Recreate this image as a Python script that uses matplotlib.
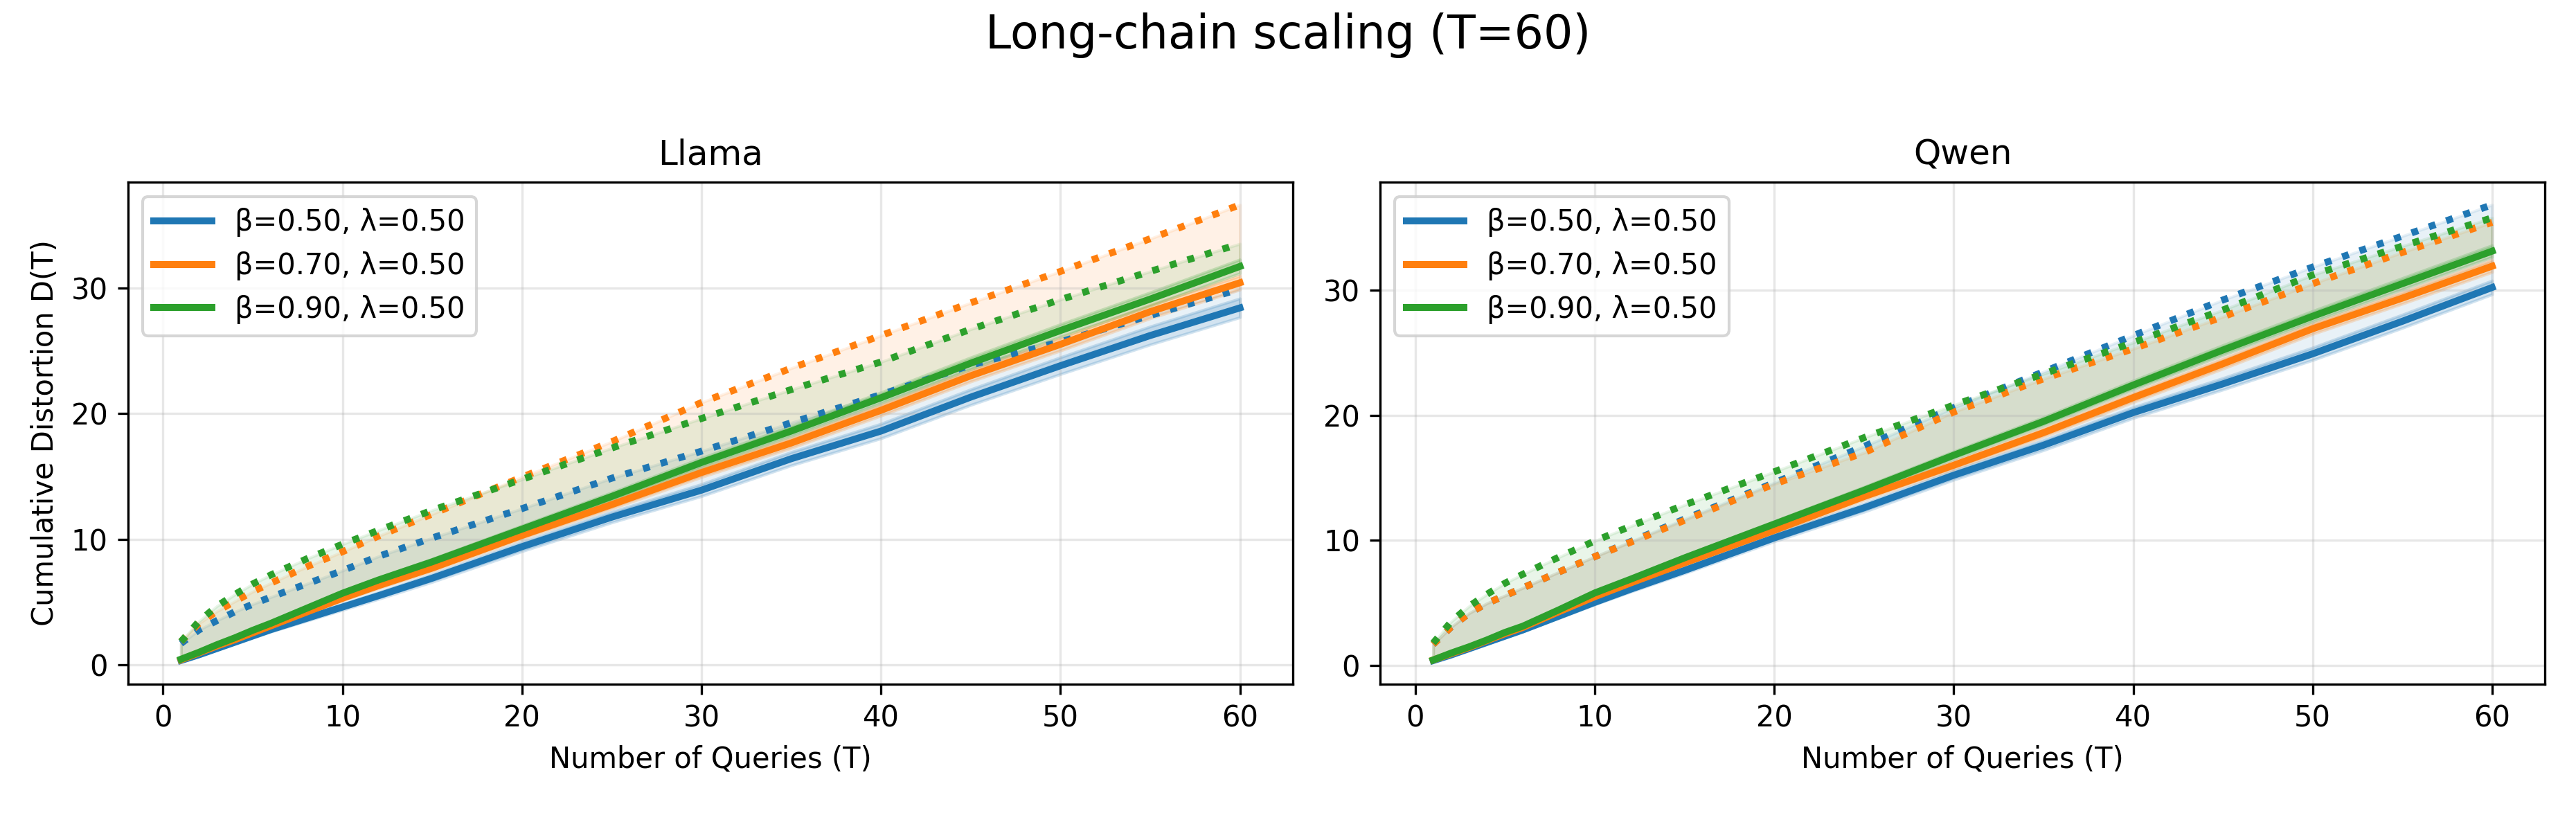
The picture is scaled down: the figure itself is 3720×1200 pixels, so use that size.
import matplotlib
matplotlib.use("Agg")
import matplotlib.pyplot as plt
from matplotlib.ticker import MultipleLocator
import numpy as np

T = [1, 2, 3, 4, 5, 6, 8, 10, 12, 15, 20, 25, 30, 35, 40, 45, 50, 55, 60]

LABELS = ["β=0.50, λ=0.50", "β=0.70, λ=0.50", "β=0.90, λ=0.50"]
COLORS = ["tab:blue", "tab:orange", "tab:green"]

# Llama: mean cumulative distortion (solid), its std, and the bound (dotted)
llama_b50 = [0.35, 0.8, 1.3, 1.8, 2.3, 2.8, 3.7, 4.6, 5.5, 6.9, 9.4, 11.75, 13.9, 16.4, 18.6, 21.3, 23.8, 26.2, 28.4]
llama_b70 = [0.4, 0.95, 1.5, 2.0, 2.55, 3.1, 4.2, 5.3, 6.3, 7.7, 10.3, 12.75, 15.3, 17.65, 20.25, 23.0, 25.5, 28.1, 30.4]
llama_b90 = [0.45, 1.0, 1.6, 2.15, 2.75, 3.3, 4.5, 5.7, 6.75, 8.2, 10.8, 13.4, 16.1, 18.6, 21.25, 24.0, 26.6, 29.1, 31.7]
llama_b50_std = [0.05, 0.08, 0.1, 0.12, 0.14, 0.16, 0.2, 0.23, 0.26, 0.3, 0.36, 0.42, 0.48, 0.53, 0.58, 0.62, 0.67, 0.72, 0.75]
llama_b70_std = [0.04, 0.06, 0.08, 0.1, 0.11, 0.12, 0.15, 0.17, 0.2, 0.23, 0.28, 0.32, 0.36, 0.4, 0.43, 0.46, 0.5, 0.53, 0.55]
llama_b90_std = [0.04, 0.06, 0.08, 0.1, 0.11, 0.12, 0.15, 0.17, 0.2, 0.23, 0.28, 0.32, 0.36, 0.4, 0.43, 0.46, 0.5, 0.53, 0.55]
llama_b50_bound = [1.7, 2.78, 3.52, 4.22, 4.83, 5.39, 6.44, 7.5, 8.63, 10.1, 12.43, 14.85, 17.0, 19.26, 21.5, 23.85, 25.7, 27.8, 29.9]
llama_b70_bound = [1.85, 3.3, 4.26, 5.05, 5.83, 6.5, 7.8, 9.0, 10.24, 12.0, 14.94, 17.75, 20.87, 23.6, 26.2, 28.8, 31.3, 33.9, 36.6]
llama_b90_bound = [1.85, 3.46, 4.67, 5.6, 6.44, 7.15, 8.43, 9.6, 10.7, 12.3, 14.76, 17.25, 19.6, 21.9, 24.1, 26.7, 29.06, 31.3, 33.5]

# Qwen
qwen_b50 = [0.4, 0.85, 1.35, 1.85, 2.35, 2.85, 3.95, 5.05, 6.1, 7.6, 10.2, 12.6, 15.2, 17.6, 20.2, 22.5, 24.9, 27.5, 30.2]
qwen_b70 = [0.45, 0.95, 1.45, 2.0, 2.55, 3.05, 4.3, 5.5, 6.6, 8.2, 10.8, 13.5, 16.0, 18.6, 21.4, 24.1, 26.9, 29.35, 31.9]
qwen_b90 = [0.45, 1.0, 1.5, 2.05, 2.65, 3.15, 4.45, 5.8, 6.9, 8.6, 11.3, 14.0, 16.8, 19.5, 22.4, 25.2, 27.9, 30.5, 33.1]
qwen_b50_std = [0.04, 0.06, 0.08, 0.1, 0.11, 0.12, 0.15, 0.17, 0.2, 0.23, 0.28, 0.32, 0.36, 0.4, 0.43, 0.46, 0.5, 0.53, 0.55]
qwen_b70_std = [0.03, 0.05, 0.07, 0.08, 0.09, 0.1, 0.12, 0.14, 0.16, 0.19, 0.23, 0.27, 0.3, 0.33, 0.36, 0.39, 0.42, 0.45, 0.47]
qwen_b90_std = [0.03, 0.05, 0.07, 0.08, 0.09, 0.1, 0.12, 0.14, 0.16, 0.19, 0.23, 0.27, 0.3, 0.33, 0.36, 0.39, 0.42, 0.45, 0.47]
qwen_b50_bound = [1.7, 3.08, 4.18, 4.98, 5.59, 6.21, 7.47, 8.7, 9.9, 11.7, 14.6, 17.5, 20.6, 23.46, 26.35, 29.2, 31.83, 34.3, 36.8]
qwen_b70_bound = [1.7, 3.08, 4.18, 4.98, 5.59, 6.21, 7.47, 8.7, 9.85, 11.6, 14.5, 17.0, 20.25, 22.9, 25.3, 27.86, 30.5, 33.0, 35.4]
qwen_b90_bound = [1.8, 3.5, 4.74, 5.7, 6.58, 7.3, 8.66, 9.95, 11.13, 12.83, 15.48, 18.2, 20.8, 23.3, 25.8, 28.4, 31.2, 33.5, 35.76]

PANELS = [
    ("Llama",
     [llama_b50, llama_b70, llama_b90],
     [llama_b50_std, llama_b70_std, llama_b90_std],
     [llama_b50_bound, llama_b70_bound, llama_b90_bound]),
    ("Qwen",
     [qwen_b50, qwen_b70, qwen_b90],
     [qwen_b50_std, qwen_b70_std, qwen_b90_std],
     [qwen_b50_bound, qwen_b70_bound, qwen_b90_bound]),
]


def main() -> int:
    fig = plt.figure(figsize=(12.4, 4.0), dpi=300)
    axes = [fig.add_axes([0.0497, 0.177, 0.4522, 0.604]),
            fig.add_axes([0.5358, 0.177, 0.4522, 0.604])]

    t = np.array(T)
    for ax, (name, means, stds, bounds) in zip(axes, PANELS):
        for mean, std, bound, color, label in zip(means, stds, bounds, COLORS, LABELS):
            mean = np.array(mean)
            std = np.array(std)
            bound = np.array(bound)
            ax.plot(t, mean, color=color, lw=2.4, label=label)
            ax.fill_between(t, mean - std, mean + std, color=color, alpha=0.2)
            ax.plot(t, bound, color=color, lw=2.4, ls=":")
            ax.fill_between(t, mean, bound, color=color, alpha=0.1)
        ax.set_title(name, fontsize=12)
        ax.set_xlabel("Number of Queries (T)")
        ax.yaxis.set_major_locator(MultipleLocator(10))
        ax.grid(alpha=0.3)
        ax.legend(loc="upper left", fontsize=10)

    axes[0].set_ylabel("Cumulative Distortion D(T)")
    fig.suptitle("Long-chain scaling (T=60)", fontsize=16, y=0.985)
    fig.savefig("out.png", dpi=300)
    plt.close(fig)
    return 0


if __name__ == "__main__":
    raise SystemExit(main())
